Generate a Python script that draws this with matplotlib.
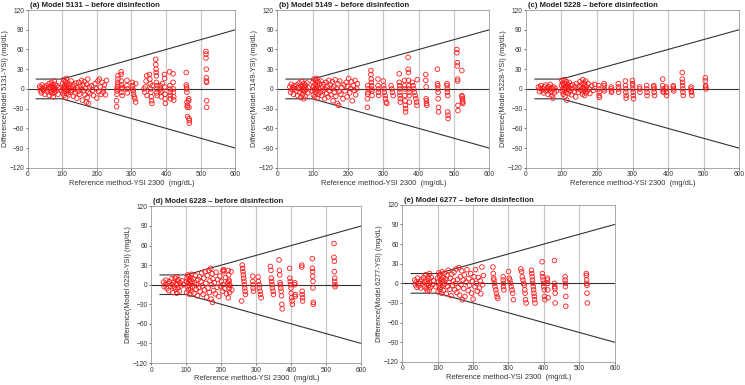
import matplotlib
matplotlib.use("Agg")
import matplotlib.pyplot as plt

plt.rcParams['font.family'] = ['Liberation Sans', 'DejaVu Sans']

# acceptance limits: +/-15 mg/dL below 100, +/-15 % above
limit_x = [25, 100, 600]
limit_up = [15, 15, 90]
limit_lo = [-15, -15, -90]

titles = ["(a) Model 5131 \u2013 before disinfection",
          "(b) Model 5149 \u2013 before disinfection",
          "(c) Model 5228 \u2013 before disinfection",
          "(d) Model 6228 \u2013 before disinfection",
          "(e) Model 6277 \u2013 before disinfection"]
ylabels = ["Difference(Model 5131-YSI) (mg/dL)",
           "Difference(Model 5149-YSI) (mg/dL)",
           "Difference(Model 5228-YSI) (mg/dL)",
           "Difference(Model 6228-YSI) (mg/dL)",
           "Difference(Model 6277-YSI) (mg/dL)"]
xlabel = "Reference method-YSI 2300  (mg/dL)"

# (reference value, difference) pairs
a_points = [
    (35, 4), (37, -3), (38, 1), (40, -6), (42, 6), (44, 0), (46, -2), (48, 3), (50, -8), (52, 2),
    (55, 5), (57, -4), (60, 0), (62, 8), (63, -10), (65, 3), (66, -5), (68, 1), (69, 10), (70, -3),
    (71, 6), (72, -7), (73, 2), (74, -12), (75, 4), (76, -1), (77, 12), (78, -5), (79, 7), (80, 0),
    (82, -3), (85, 5), (88, -8), (90, 2), (98, -2), (101, 8), (102, -6), (103, 3), (104, 14), (105, -10),
    (106, 0), (107, 5), (108, -4), (109, 11), (110, -13), (111, 2), (112, 16), (113, -7), (114, 6), (115, -1),
    (116, 9), (117, -3), (118, 4), (119, -9), (120, 1), (122, 7), (124, -5), (126, 12), (128, -2), (130, 3),
    (132, -11), (134, 6), (136, 0), (138, -6), (140, 9), (142, -14), (144, 2), (146, -4), (148, 10), (150, -8),
    (152, 4), (154, -1), (156, 13), (158, -17), (160, 6), (162, -3), (164, 11), (166, -9), (168, 1), (170, -20),
    (171, 7), (172, -13), (174, 15), (175, -5), (176, -22), (178, 3), (180, -7), (185, 5), (188, -2), (190, -10),
    (195, 8), (198, 0), (200, -14), (203, 12), (205, -4), (207, 15), (210, 3), (212, -8), (215, 10), (218, -5),
    (220, 0), (222, 6), (225, -9), (228, 13),
    (257, -27), (257, -18), (258, -8), (258, -3), (259, 0), (259, 3), (260, 6), (260, 10), (261, 15), (261, 20),
    (270, 26), (270, 22), (271, 12), (271, 6), (272, 0), (272, -5), (273, -10), (273, 2),
    (287, 13), (287, 5), (288, 0), (288, -6),
    (302, 10), (303, 5), (304, 0), (305, -3), (306, -8), (308, -12), (310, -15), (312, -20), (312, 8),
    (336, 0), (338, -5), (340, 3), (342, 12), (344, 20), (345, -10),
    (352, 22), (353, 15), (354, 8), (355, 0), (356, -5), (357, -12), (358, -18), (359, -22), (360, 5),
    (370, 45), (370, 37), (371, 30), (371, 25), (372, 20), (372, 10), (373, 0), (373, -6), (374, -10), (374, 5),
    (383, 5), (384, 0), (385, -5), (386, -12), (388, -3), (389, 8),
    (395, 22), (396, 16), (396, 3), (397, -8), (397, -15), (398, -22),
    (410, 26), (411, 5), (411, 0), (412, -5), (412, -10), (413, -15),
    (420, 23), (420, 10), (421, 0), (421, -5), (422, -12), (422, -17),
    (458, 25), (458, 6), (459, 3), (459, 0), (460, -5), (460, -20), (461, -25), (461, -28), (462, -42),
    (465, -15), (465, -18), (466, -28), (466, -45), (467, -48), (467, -52),
    (515, 57), (515, 53), (515, 47), (516, 30), (516, 17), (516, 12), (517, 10), (517, -18), (517, -28),
]

b_points = [
    (36, 3), (38, -5), (40, 7), (42, -1), (44, 2), (46, -8), (48, 5), (50, 0), (53, -3), (56, 6),
    (58, -10), (60, 2), (62, 9), (64, -6), (65, 1), (67, -13), (68, 4), (70, 11), (71, -2), (72, -8),
    (73, 5), (74, 0), (75, -15), (76, 8), (77, -4), (78, 3), (79, -11), (80, 6), (82, -1), (84, 9),
    (86, -6), (88, 2), (100, -3), (101, 10), (102, -9), (103, 4), (104, 15), (105, -1), (106, -12), (107, 7),
    (108, 0), (109, 13), (110, -6), (111, 3), (112, 16), (113, -14), (114, 5), (115, -3), (116, 11), (117, -8),
    (118, 1), (120, 8), (122, -5), (124, 12), (126, -10), (128, 3), (130, -2), (132, 7), (134, -15), (136, 0),
    (138, 10), (140, -7), (142, 4), (144, -12), (146, 13), (148, -3), (150, 6), (152, -9), (154, 1), (156, 11),
    (158, -18), (160, 3), (162, -5), (164, 14), (166, -11), (168, 0), (170, -22), (172, 8), (174, -25), (175, -4),
    (177, 12), (180, -8), (183, 2), (186, -15), (189, 6), (192, -3), (195, 10), (198, -12), (200, 4), (202, 16),
    (205, -6), (208, 1), (210, 11), (212, -18), (215, 5), (218, -2), (220, 13), (222, -9), (225, 0), (227, 8),
    (255, -28), (255, -15), (256, -8), (256, 5), (257, 0), (257, -5),
    (265, 28), (265, 22), (266, 15), (266, 10), (267, 5), (267, 0), (268, -3), (268, -10),
    (285, 15), (285, 5), (286, 0), (286, -5), (287, -10),
    (300, 12), (301, 5), (302, 0), (303, -5), (305, -10), (306, -15), (308, -20), (310, -22),
    (322, 5), (324, 0), (326, -5), (328, -10),
    (345, 23), (345, 10), (346, 5), (346, 0), (347, -5), (347, -10), (348, -15), (348, -20),
    (360, 13), (360, 5), (361, 0), (361, -10), (362, -18), (362, -25), (363, -30), (363, -35),
    (370, 48), (370, 30), (371, 25), (371, 13), (372, 5), (372, 0), (373, -5), (373, -10), (374, -20),
    (382, 10), (384, 5), (386, 0), (388, -5), (390, -10), (392, -15), (394, -20), (395, -25), (396, 14),
    (420, 22), (420, 13), (421, 3), (421, -15), (422, -18), (422, -22), (423, -25),
    (453, 30), (453, 8), (454, 5), (454, 0), (455, -5), (455, -15), (456, -28), (456, -35),
    (480, 8), (480, 5), (481, 0), (481, -5), (482, -10), (482, -35), (483, -40), (483, -45),
    (508, 60), (508, 55), (509, 40), (509, 35), (510, 15), (510, 12), (511, -25), (511, -33),
    (522, 28), (522, -10), (523, -12), (523, -15), (524, -18), (524, -20), (525, -22),
]

c_points = [
    (35, 3), (38, -4), (40, 1), (42, 5), (45, -2), (48, 0), (50, -6), (52, 3), (55, 6), (57, -3),
    (60, 1), (62, -8), (64, 4), (66, -1), (68, 7), (70, -5), (72, 2), (73, -10), (75, 0), (76, -14),
    (78, 3), (80, -6), (82, 1), (85, -3), (100, 5), (101, 13), (102, -4), (103, 9), (104, 0), (105, -8),
    (106, 6), (107, 14), (108, -2), (109, 3), (110, -11), (111, 8), (112, 1), (113, -5), (114, 11), (115, -17),
    (116, 4), (117, -1), (118, 7), (119, -7), (120, 2), (122, 10), (124, -3), (126, 5), (128, -9), (130, 0),
    (132, 6), (135, -4), (138, 3), (140, -12), (142, 8), (145, 0), (148, -5), (150, 4), (152, 11), (155, -2),
    (157, 7), (159, -8), (160, 14), (161, 2), (162, -4), (163, 9), (164, 0), (165, -10), (166, 6), (167, -1),
    (168, 12), (169, -6), (170, 3), (172, -3), (175, 8), (178, 0), (180, -7), (185, 5), (190, -2), (193, 7),
    (205, 5), (205, 0), (206, -5), (206, -10), (207, -13),
    (220, 8), (220, 5), (221, 0), (221, -3),
    (240, 3), (240, 0), (241, -3), (241, -5),
    (260, 8), (260, 3), (261, 0), (261, -5),
    (280, 12), (280, 5), (281, 0), (281, -5), (282, -10), (282, -14),
    (300, 13), (300, 8), (301, 5), (301, 0), (302, -5), (302, -10), (303, -15),
    (320, 3), (320, 0), (321, -5),
    (340, 5), (340, 0), (341, -5), (341, -10),
    (360, 5), (360, 3), (361, 0), (361, -5), (362, -10),
    (385, 15), (385, 5), (386, 0), (386, -3), (387, -5),
    (395, 3), (395, 0), (396, -5), (396, -10),
    (415, 5), (415, 3), (416, 0), (416, -3),
    (440, 25), (440, 15), (441, 10), (441, 5), (442, 0), (442, -5), (443, -10),
    (465, 3), (465, 0), (466, -3), (466, -5), (467, -10),
    (505, 17), (505, 12), (506, 5), (506, 3), (507, 0),
]

d_points = [
    (35, 4), (37, -3), (40, 0), (42, 7), (45, -6), (48, 2), (50, -9), (52, 5), (55, -2), (58, 9),
    (60, 0), (62, -12), (64, 4), (66, -4), (68, 10), (70, -7), (71, 2), (72, 12), (73, -13), (74, 0),
    (75, 6), (76, -5), (78, 8), (80, -10), (82, 3), (85, -2), (88, 6), (92, 0), (100, 5), (101, -12),
    (102, 10), (103, -3), (104, 15), (105, 2), (106, -8), (107, 13), (108, -1), (109, 7), (110, -15), (111, 4),
    (112, 11), (113, -6), (114, 1), (115, 16), (116, -10), (117, 5), (118, -3), (120, 9), (122, -13), (124, 3),
    (126, 14), (128, -7), (130, 0), (132, -17), (134, 8), (136, -4), (138, 12), (140, -11), (142, 5), (144, 18),
    (146, -2), (148, -15), (150, 10), (152, -8), (154, 20), (156, 2), (158, -19), (160, 14), (162, -5), (164, 22),
    (166, -12), (168, 6), (170, 25), (171, -22), (172, 0), (174, 17), (175, -27), (176, 9), (178, -9), (180, 3),
    (183, -14), (185, 19), (188, -4), (190, 8), (193, -18), (196, 13), (198, -2), (200, 5), (203, -10), (205, 0),
    (207, 23), (210, -6), (212, 11), (215, -14), (218, 3), (220, -20), (222, 7), (225, -1), (228, 20), (230, -8),
    (205, 22), (206, 20),
    (220, 22), (221, 15), (222, 5), (222, 0), (223, -5), (224, -12),
    (260, 30), (261, 25), (262, 20), (263, 15), (264, 10), (265, 5), (266, 0), (267, -5), (268, -10), (269, -15), (258, -25),
    (290, 13), (290, 5), (291, 0), (291, -5), (292, -10),
    (305, 12), (306, 5), (308, 0), (309, -5), (311, -10), (312, -15), (314, -20),
    (340, 28), (342, 22), (343, 10), (344, 5), (345, 0), (346, -5), (348, -10), (349, -15),
    (365, 38), (366, 22), (367, 15), (368, 3), (369, 0), (370, -5), (371, -10), (372, -17), (373, -30), (374, -37),
    (395, 25), (396, 10), (397, 5), (398, 0), (399, -5), (400, -13), (401, -20), (402, -25), (403, -30),
    (410, 3), (410, 0), (411, -15), (411, -18),
    (430, 30), (430, 27), (431, -10), (431, -15), (432, -20), (432, -25),
    (460, 40), (460, 25), (461, 20), (461, 13), (462, 5), (462, -5), (463, -27), (463, -30),
    (522, 63), (522, 42), (523, 36), (523, 20), (524, 10), (524, 5), (525, 0), (525, -3),
]

e_points = [
    (35, 5), (37, -2), (39, 2), (41, -6), (43, 8), (45, 0), (47, -4), (50, 3), (52, -7), (55, 6),
    (57, -1), (60, 9), (62, -5), (64, 2), (66, 13), (68, -8), (70, 4), (71, -12), (72, 0), (73, 10),
    (74, -3), (75, 7), (76, -10), (77, 15), (78, 1), (80, -6), (82, 9), (85, -2), (88, 4), (95, -5),
    (100, 8), (101, -13), (102, 3), (103, 16), (104, -4), (105, 11), (106, -9), (107, 0), (108, 14), (109, -6),
    (110, 6), (111, -15), (112, 2), (113, 18), (114, -3), (115, 9), (116, -11), (117, 4), (118, 15), (120, -1),
    (122, 7), (124, -16), (126, 12), (128, -5), (130, 20), (132, 1), (134, -9), (136, 8), (138, -19), (140, 14),
    (142, -3), (144, 4), (146, 17), (148, -10), (150, 0), (152, 22), (154, -14), (156, 6), (158, -6), (160, 24),
    (162, -18), (164, 10), (166, -2), (168, 19), (170, -25), (172, 5), (174, -8), (175, 13), (177, -20), (180, 2),
    (183, 21), (186, -11), (188, 7), (190, -3), (193, 15), (196, -15), (198, 3), (200, -24), (203, 10), (205, -5),
    (207, 21), (210, 0), (212, -12), (215, 9), (218, -7), (220, 4), (222, -16), (225, 25), (227, -2), (229, 12),
    (256, 25), (257, 15), (258, 8), (259, 5), (260, 0), (262, -5), (264, -10), (266, -15), (268, -20), (270, -23),
    (285, 10), (285, 5), (286, 0), (286, -5), (287, -10),
    (300, 18), (302, 8), (304, 5), (306, 0), (308, -5), (310, -10), (312, -15), (314, -25),
    (335, 22), (337, 18), (339, 10), (341, 5), (343, 0), (345, -3), (346, -10), (347, -15), (348, -25), (350, -30),
    (365, 20), (366, 15), (367, 10), (368, 5), (369, 0), (370, -5), (371, -10), (372, -15), (373, -20), (374, -25), (375, -30),
    (395, 33), (396, 15), (397, 10), (398, 5), (399, 0), (400, -5), (401, -10), (402, -20), (403, -25),
    (410, 8), (410, 5), (411, 0), (411, -10), (412, -22),
    (430, 35), (430, 0), (431, -5), (431, -8), (432, -15), (432, -30),
    (460, 10), (460, 5), (461, 0), (461, -5), (462, -20), (462, -35),
    (520, 15), (520, 12), (521, 5), (521, 0), (522, -3), (522, -15), (523, -30),
]

all_points = [a_points, b_points, c_points, d_points, e_points]

# axes rectangles in figure fractions (left, bottom, width, height)
positions = [
    [0.037, 0.564, 0.279, 0.410],
    [0.372, 0.564, 0.285, 0.410],
    [0.706, 0.564, 0.286, 0.410],
    [0.203, 0.057, 0.282, 0.407],
    [0.540, 0.060, 0.285, 0.408],
]

fig = plt.figure(figsize=(7.45, 3.85), dpi=100)

for i in range(5):
    ax = fig.add_axes(positions[i])
    xs = [p[0] for p in all_points[i]]
    ys = [p[1] for p in all_points[i]]

    for gx in [100, 200, 300, 400, 500]:
        ax.axvline(gx, color='#c8c8c8', lw=0.9, zorder=0)

    ax.plot([0, 600], [0, 0], color='#333333', lw=0.8, zorder=2)
    ax.plot(limit_x, limit_up, color='#333333', lw=0.8, zorder=2)
    ax.plot(limit_x, limit_lo, color='#333333', lw=0.8, zorder=2)

    ax.scatter(xs, ys, s=11, facecolors='none', edgecolors='#ff1a1a',
               linewidths=0.6, zorder=3)

    ax.set_xlim(0, 600)
    ax.set_ylim(-120, 120)
    ax.set_xticks(range(0, 601, 100))
    ax.set_yticks(range(-120, 121, 30))
    ax.tick_params(labelsize=4.8, length=1.5, width=0.5, pad=1, colors='#333333')
    for sp in ax.spines.values():
        sp.set_color('#999999')
        sp.set_linewidth(0.6)

    ax.set_xlabel(xlabel, fontsize=5.4, labelpad=1, color='#333333')
    ax.set_ylabel(ylabels[i], fontsize=5.2, labelpad=0.5, color='#333333')
    ax.text(0.01, 1.008, titles[i], transform=ax.transAxes, fontsize=5.5,
            fontweight='bold', ha='left', va='bottom', color='#222222')

fig.savefig("out.png", dpi=100)
